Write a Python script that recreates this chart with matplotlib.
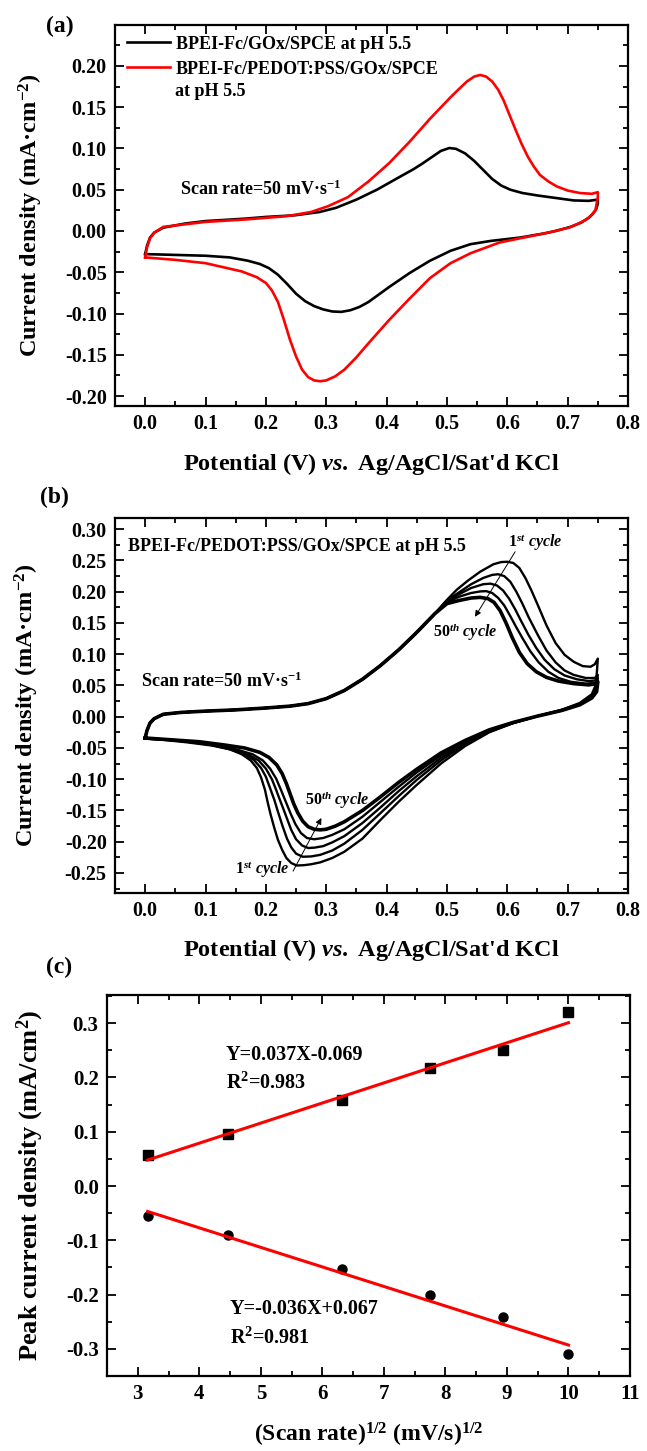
import numpy as np
import matplotlib
matplotlib.use("Agg")
import matplotlib.pyplot as plt
from matplotlib.ticker import MultipleLocator, FormatStrFormatter

plt.rcParams['font.family'] = ['Liberation Serif', 'DejaVu Serif']
plt.rcParams['font.weight'] = 'bold'
plt.rcParams['axes.labelweight'] = 'bold'
plt.rcParams['axes.unicode_minus'] = False
plt.rcParams['mathtext.fontset'] = 'custom'
plt.rcParams['mathtext.rm'] = 'Liberation Serif:bold'
plt.rcParams['mathtext.it'] = 'Liberation Serif:italic:bold'
plt.rcParams['mathtext.bf'] = 'Liberation Serif:bold'
plt.rcParams['mathtext.default'] = 'rm'

# ---------------- (a) CV of the two electrodes ----------------
black_fwd_v = [0.0, 0.003, 0.008, 0.015, 0.03, 0.066, 0.1, 0.167, 0.2, 0.248, 0.289, 0.316, 0.35,
               0.384, 0.418, 0.445, 0.46, 0.48, 0.49, 0.504, 0.515, 0.53, 0.545, 0.56, 0.575, 0.59,
               0.605, 0.625, 0.65, 0.68, 0.71, 0.735, 0.75]
black_fwd_i = [-0.028, -0.018, -0.008, -0.002, 0.004, 0.009, 0.012, 0.015, 0.017, 0.019, 0.023,
               0.028, 0.038, 0.050, 0.064, 0.075, 0.082, 0.092, 0.097, 0.1005, 0.0995, 0.094, 0.085,
               0.074, 0.063, 0.055, 0.050, 0.046, 0.043, 0.040, 0.037, 0.0365, 0.038]
black_rev_v = [0.75, 0.747, 0.742, 0.735, 0.722, 0.705, 0.68, 0.661, 0.621, 0.573, 0.539, 0.506,
               0.472, 0.438, 0.404, 0.37, 0.355, 0.34, 0.325, 0.31, 0.295, 0.28, 0.265, 0.25, 0.235,
               0.22, 0.205, 0.19, 0.17, 0.14, 0.1, 0.05, 0.0]
black_rev_i = [0.033, 0.026, 0.021, 0.016, 0.010, 0.005, 0.000, -0.003, -0.008, -0.012, -0.016,
               -0.024, -0.036, -0.051, -0.068, -0.086, -0.092, -0.096, -0.098, -0.0975, -0.095,
               -0.091, -0.085, -0.076, -0.064, -0.053, -0.045, -0.040, -0.036, -0.032, -0.030,
               -0.029, -0.028]

red_fwd_v = [0.0, 0.003, 0.008, 0.015, 0.03, 0.1, 0.167, 0.235, 0.275, 0.303, 0.336, 0.37, 0.404,
             0.438, 0.472, 0.506, 0.52, 0.533, 0.545, 0.555, 0.565, 0.575, 0.585, 0.594, 0.604,
             0.614, 0.624, 0.634, 0.644, 0.654, 0.668, 0.682, 0.7, 0.72, 0.74, 0.75]
red_fwd_i = [-0.032, -0.020, -0.009, -0.002, 0.005, 0.011, 0.014, 0.018, 0.023, 0.030, 0.041, 0.060,
             0.082, 0.108, 0.136, 0.162, 0.172, 0.181, 0.187, 0.189, 0.187, 0.181, 0.171, 0.158,
             0.140, 0.122, 0.105, 0.090, 0.078, 0.068, 0.060, 0.054, 0.049, 0.046, 0.045, 0.047]
red_rev_v = [0.75, 0.746, 0.738, 0.729, 0.715, 0.702, 0.668, 0.627, 0.587, 0.539, 0.506, 0.472,
             0.438, 0.404, 0.37, 0.35, 0.33, 0.315, 0.30, 0.29, 0.28, 0.27, 0.26, 0.25, 0.24, 0.23,
             0.22, 0.21, 0.2, 0.185, 0.16, 0.13, 0.1, 0.05, 0.0]
red_rev_i = [0.041, 0.025, 0.018, 0.013, 0.008, 0.004, -0.002, -0.008, -0.014, -0.027, -0.039,
             -0.057, -0.082, -0.108, -0.136, -0.153, -0.168, -0.176, -0.181, -0.182, -0.181, -0.177,
             -0.168, -0.152, -0.132, -0.108, -0.086, -0.072, -0.063, -0.056, -0.049, -0.044,
             -0.039, -0.035, -0.032]

# ---------------- (b) repeated cycling ----------------
# common anodic rise shared by all cycles
rise_v = [0.0, 0.003, 0.008, 0.015, 0.03, 0.06, 0.1, 0.15, 0.2, 0.24, 0.27, 0.3, 0.33, 0.36, 0.39,
          0.42, 0.45, 0.48]
rise_i = [-0.034, -0.022, -0.010, -0.003, 0.004, 0.007, 0.009, 0.011, 0.014, 0.017, 0.021, 0.029,
          0.042, 0.060, 0.082, 0.107, 0.135, 0.165]

c1_fwd_v = [0.50, 0.516, 0.535, 0.555, 0.577, 0.59, 0.60, 0.61, 0.62, 0.63, 0.64, 0.65, 0.665, 0.68,
            0.695, 0.71, 0.725, 0.738, 0.745, 0.75]
c1_fwd_i = [0.187, 0.203, 0.218, 0.232, 0.244, 0.2475, 0.248, 0.246, 0.238, 0.222, 0.202, 0.180,
            0.146, 0.118, 0.099, 0.088, 0.081, 0.080, 0.084, 0.093]
c2_fwd_v = [0.50, 0.52, 0.54, 0.56, 0.575, 0.585, 0.595, 0.605, 0.615, 0.625, 0.635, 0.651, 0.665,
            0.68, 0.695, 0.71, 0.73, 0.745, 0.75]
c2_fwd_i = [0.186, 0.199, 0.212, 0.222, 0.227, 0.228, 0.225, 0.216, 0.200, 0.181, 0.160, 0.130,
            0.106, 0.087, 0.074, 0.067, 0.062, 0.062, 0.067]
c3_fwd_v = [0.50, 0.52, 0.54, 0.56, 0.572, 0.583, 0.593, 0.603, 0.613, 0.623, 0.635, 0.648, 0.662,
            0.678, 0.695, 0.715, 0.735, 0.745, 0.75]
c3_fwd_i = [0.185, 0.196, 0.206, 0.212, 0.213, 0.210, 0.202, 0.189, 0.172, 0.153, 0.131, 0.110,
            0.091, 0.076, 0.066, 0.060, 0.057, 0.058, 0.062]
c4_fwd_v = [0.50, 0.52, 0.54, 0.555, 0.565, 0.575, 0.585, 0.595, 0.605, 0.615, 0.625, 0.638, 0.652,
            0.668, 0.685, 0.705, 0.73, 0.745, 0.75]
c4_fwd_i = [0.183, 0.192, 0.198, 0.2005, 0.201, 0.198, 0.190, 0.178, 0.161, 0.143, 0.126, 0.105,
            0.087, 0.072, 0.062, 0.056, 0.053, 0.054, 0.058]
c5_fwd_v = [0.50, 0.52, 0.54, 0.555, 0.568, 0.578, 0.588, 0.598, 0.608, 0.62, 0.633, 0.648, 0.665,
            0.685, 0.71, 0.735, 0.748, 0.75]
c5_fwd_i = [0.181, 0.186, 0.190, 0.191, 0.189, 0.183, 0.170, 0.150, 0.127, 0.103, 0.085, 0.072,
            0.063, 0.057, 0.053, 0.051, 0.053, 0.056]

# reverse (cathodic) sweeps, common part down to 0.33 V then each cathodic peak
c1_rev_v = [0.75, 0.747, 0.74, 0.72, 0.69, 0.65, 0.61, 0.57, 0.53, 0.49, 0.45, 0.42, 0.39, 0.36,
            0.33, 0.31, 0.29, 0.275, 0.263, 0.251, 0.242, 0.234, 0.227, 0.22, 0.214, 0.208, 0.203,
            0.1985, 0.192, 0.185, 0.175, 0.16, 0.14, 0.11, 0.07, 0.03, 0.0]
c1_rev_i = [0.093, 0.052, 0.036, 0.022, 0.011, 0.001, -0.010, -0.025, -0.047, -0.075, -0.109,
            -0.136, -0.165, -0.195, -0.216, -0.226, -0.233, -0.236, -0.2375, -0.238, -0.234,
            -0.226, -0.213, -0.197, -0.178, -0.157, -0.137, -0.117, -0.097, -0.082, -0.070,
            -0.060, -0.052, -0.045, -0.040, -0.036, -0.035]
c2_rev_v = [0.75, 0.747, 0.74, 0.72, 0.69, 0.65, 0.61, 0.57, 0.53, 0.49, 0.45, 0.42, 0.39, 0.36,
            0.33, 0.31, 0.29, 0.275, 0.261, 0.25, 0.242, 0.235, 0.228, 0.22, 0.214, 0.208, 0.2,
            0.192, 0.18, 0.165, 0.14, 0.11, 0.07, 0.03, 0.0]
c2_rev_i = [0.067, 0.045, 0.033, 0.021, 0.011, 0.001, -0.010, -0.024, -0.044, -0.070, -0.101,
            -0.127, -0.154, -0.181, -0.203, -0.214, -0.221, -0.2235, -0.224, -0.219, -0.209,
            -0.195, -0.176, -0.152, -0.133, -0.117, -0.096, -0.082, -0.069, -0.060, -0.052,
            -0.046, -0.041, -0.037, -0.035]
c3_rev_v = [0.75, 0.747, 0.74, 0.72, 0.69, 0.65, 0.61, 0.57, 0.53, 0.49, 0.45, 0.42, 0.39, 0.36,
            0.33, 0.31, 0.295, 0.28, 0.27, 0.26, 0.25, 0.242, 0.235, 0.228, 0.222, 0.217, 0.21, 0.2,
            0.188, 0.17, 0.145, 0.115, 0.08, 0.04, 0.0]
c3_rev_i = [0.062, 0.043, 0.032, 0.020, 0.010, 0.001, -0.010, -0.023, -0.042, -0.066, -0.095,
            -0.119, -0.145, -0.170, -0.191, -0.201, -0.207, -0.2095, -0.210, -0.206, -0.196,
            -0.181, -0.163, -0.145, -0.130, -0.117, -0.100, -0.083, -0.070, -0.060, -0.052,
            -0.046, -0.041, -0.037, -0.035]
c4_rev_v = [0.75, 0.747, 0.74, 0.72, 0.69, 0.65, 0.61, 0.57, 0.53, 0.49, 0.45, 0.42, 0.39, 0.36,
            0.33, 0.31, 0.295, 0.28, 0.268, 0.258, 0.249, 0.241, 0.233, 0.225, 0.217, 0.207, 0.195,
            0.178, 0.15, 0.12, 0.085, 0.045, 0.0]
c4_rev_i = [0.058, 0.041, 0.031, 0.020, 0.010, 0.001, -0.009, -0.022, -0.040, -0.062, -0.089,
            -0.112, -0.136, -0.160, -0.180, -0.189, -0.194, -0.196, -0.194, -0.186, -0.172,
            -0.155, -0.136, -0.117, -0.099, -0.083, -0.070, -0.060, -0.052, -0.046, -0.041,
            -0.037, -0.034]
c5_rev_v = [0.75, 0.748, 0.74, 0.72, 0.69, 0.65, 0.61, 0.57, 0.53, 0.49, 0.45, 0.42, 0.39, 0.36,
            0.33, 0.315, 0.30, 0.29, 0.28, 0.27, 0.261, 0.253, 0.246, 0.24, 0.234, 0.227, 0.218,
            0.205, 0.19, 0.165, 0.13, 0.09, 0.045, 0.0]
c5_rev_i = [0.056, 0.040, 0.030, 0.019, 0.010, 0.001, -0.009, -0.021, -0.038, -0.058, -0.084,
            -0.105, -0.128, -0.150, -0.168, -0.175, -0.180, -0.181, -0.180, -0.176, -0.167,
            -0.154, -0.139, -0.123, -0.107, -0.091, -0.077, -0.065, -0.057, -0.050, -0.045,
            -0.040, -0.037, -0.034]

# ---------------- (c) peak current vs sqrt(scan rate) ----------------
sqrt_rate = [3.16, 4.47, 6.32, 7.75, 8.94, 10.0]
anodic_peak = [0.058, 0.095, 0.158, 0.217, 0.250, 0.320]
cathodic_peak = [-0.055, -0.091, -0.153, -0.201, -0.242, -0.310]
anodic_fit = [0.037, -0.069]
cathodic_fit = [-0.036, 0.067]


def style_axes(ax, xlim, ylim, xmaj, xmin, ymaj, ymin, xfmt, yfmt, size):
    """Origin-like frame with inward ticks on all four sides"""
    ax.set_xlim(*xlim)
    ax.set_ylim(*ylim)
    ax.xaxis.set_major_locator(MultipleLocator(xmaj))
    ax.xaxis.set_minor_locator(MultipleLocator(xmin))
    ax.yaxis.set_major_locator(MultipleLocator(ymaj))
    ax.yaxis.set_minor_locator(MultipleLocator(ymin))
    ax.xaxis.set_major_formatter(FormatStrFormatter(xfmt))
    ax.yaxis.set_major_formatter(FormatStrFormatter(yfmt))
    ax.tick_params(which='both', direction='in', top=True, right=True, width=1.3)
    ax.tick_params(which='major', length=6.5, labelsize=size, pad=6)
    ax.tick_params(which='minor', length=3.5)
    for lab in ax.get_xticklabels() + ax.get_yticklabels():
        lab.set_fontweight('bold')
    for sp in ax.spines.values():
        sp.set_linewidth(1.6)


fig = plt.figure(figsize=(6.47, 14.51), dpi=100)
W, H = 647.0, 1451.0

xlabel_cv = "Potential (V) $\\mathit{vs.}$ Ag/AgCl/Sat'd KCl"
ylabel_cv = "Current density (mA\u00b7cm$^{-2}$)"

# (a)
ax = fig.add_axes([115 / W, 1 - 406 / H, 513 / W, 381 / H])
ax.plot(black_fwd_v + black_rev_v, black_fwd_i + black_rev_i, color='black', lw=1.9,
        solid_joinstyle='round', label='BPEI-Fc/GOx/SPCE at pH 5.5')
ax.plot(red_fwd_v + red_rev_v, red_fwd_i + red_rev_i, color='red', lw=1.9,
        solid_joinstyle='round', label='BPEI-Fc/PEDOT:PSS/GOx/SPCE')
style_axes(ax, (-0.05, 0.8), (-0.212, 0.2495), 0.1, 0.05, 0.05, 0.025, '%.1f', '%.2f', 14.5)
ax.legend(loc='upper left', bbox_to_anchor=(0.023, 0.972), frameon=False, fontsize=13,
          handlelength=2.4, handletextpad=0.3, labelspacing=0.45, borderpad=0, borderaxespad=0)
ax.text(0.117, 0.826, 'at pH 5.5', transform=ax.transAxes, fontsize=13, va='center')
ax.text(0.058, 0.05, 'Scan rate=50 mV\u00b7s$^{-1}$', fontsize=13, va='center')
ax.set_xlabel(xlabel_cv, fontsize=17.5, labelpad=12)
ax.set_ylabel(ylabel_cv, fontsize=17.5, labelpad=14)
fig.text(60 / W, 1 - 26 / H, '(a)', fontsize=17, ha='center', va='center')

# (b)
ax = fig.add_axes([115 / W, 1 - 893 / H, 513 / W, 375 / H])
cycles = [(c1_fwd_v, c1_fwd_i, c1_rev_v, c1_rev_i), (c2_fwd_v, c2_fwd_i, c2_rev_v, c2_rev_i),
          (c3_fwd_v, c3_fwd_i, c3_rev_v, c3_rev_i), (c4_fwd_v, c4_fwd_i, c4_rev_v, c4_rev_i),
          (c5_fwd_v, c5_fwd_i, c5_rev_v, c5_rev_i)]
for k, (fv, fi, rv, ri) in enumerate(cycles):
    ax.plot(rise_v + fv + rv, rise_i + fi + ri, color='black', lw=2.6 if k == 4 else 1.7,
            solid_joinstyle='round')
style_axes(ax, (-0.05, 0.8), (-0.282, 0.318), 0.1, 0.05, 0.05, 0.025, '%.1f', '%.2f', 14.5)
ax.text(-0.028, 0.272, 'BPEI-Fc/PEDOT:PSS/GOx/SPCE at pH 5.5', fontsize=13, va='center')
ax.text(-0.007, 0.056, 'Scan rate=50 mV\u00b7s$^{-1}$', fontsize=13, va='center')
ax.text(0.601, 0.279, r'$\mathit{1^{st}}$ cycle', fontsize=11.5, style='italic', va='center')
ax.text(0.477, 0.136, r'$\mathit{50^{th}}$ cycle', fontsize=11.5, style='italic', va='center')
ax.text(0.265, -0.133, r'$\mathit{50^{th}}$ cycle', fontsize=11.5, style='italic', va='center')
ax.text(0.149, -0.245, r'$\mathit{1^{st}}$ cycle', fontsize=11.5, style='italic', va='center')
arrow = dict(arrowstyle='-|>', lw=0.7, color='black', mutation_scale=9, shrinkA=0, shrinkB=0)
ax.annotate('', xy=(0.5465, 0.160), xytext=(0.613, 0.264), arrowprops=arrow)
ax.annotate('', xy=(0.292, -0.162), xytext=(0.245, -0.247), arrowprops=arrow)
ax.set_xlabel(xlabel_cv, fontsize=17.5, labelpad=11)
ax.set_ylabel(ylabel_cv, fontsize=17.5, labelpad=17)
fig.text(54 / W, 1 - 497 / H, '(b)', fontsize=17, ha='center', va='center')

# (c)
ax = fig.add_axes([107 / W, 1 - 1376 / H, 523 / W, 381 / H])
ax.plot(sqrt_rate, anodic_peak, 's', color='black', ms=6.5)
ax.plot(sqrt_rate, cathodic_peak, 'o', color='black', ms=6.5)
x_ends = np.array([sqrt_rate[0], sqrt_rate[-1]])
ax.plot(x_ends, np.polyval(anodic_fit, x_ends), color='red', lw=2.2)
ax.plot(x_ends, np.polyval(cathodic_fit, x_ends), color='red', lw=2.2)
style_axes(ax, (2.5, 11), (-0.35, 0.352), 1, 0.5, 0.1, 0.05, '%d', '%.1f', 15)
ax.text(4.43, 0.241, 'Y=0.037X-0.069', fontsize=14.5, va='center')
ax.text(4.43, 0.190, 'R$^{2}$=0.983', fontsize=14.5, va='center')
ax.text(4.50, -0.226, 'Y=-0.036X+0.067', fontsize=14.5, va='center')
ax.text(4.50, -0.281, 'R$^{2}$=0.981', fontsize=14.5, va='center')
ax.set_xlabel('(Scan rate)$^{1/2}$ (mV/s)$^{1/2}$', fontsize=17, labelpad=12)
ax.set_ylabel('Peak current density (mA/cm$^{2}$)', fontsize=19, labelpad=14)
fig.text(59 / W, 1 - 967 / H, '(c)', fontsize=17, ha='center', va='center')

fig.savefig('out.png', dpi=100)
